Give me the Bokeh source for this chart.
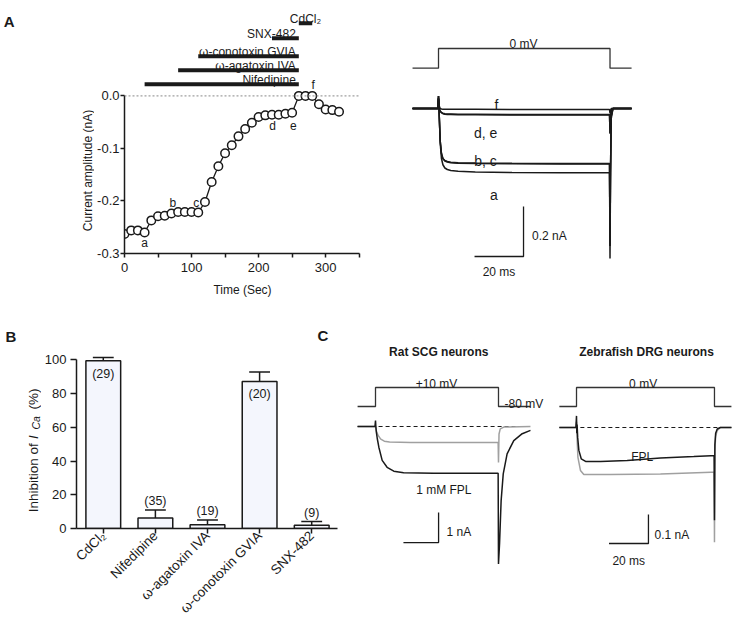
import math
from bokeh.plotting import figure
from bokeh.models import Range1d, Label, FixedTicker, PrintfTickFormatter, Span
from bokeh.layouts import row, column
from bokeh.embed import file_html
from bokeh.resources import INLINE
from bokeh.core.properties import value

FONT = "Liberation Sans"
INK = "#1a1a1a"
GRAY = "#a0a0a0"
BAR_FILL = "#f4f6fd"

# ======================= DATA =======================
# A (left): current amplitude time course
time_s = [0, 10, 20, 30, 40, 50, 60, 70, 80, 90, 100, 110, 120, 130, 140, 150, 160,
          170, 180, 190, 200, 210, 220, 230, 240, 250, 260, 270, 280, 290, 300, 310, 320]
current_nA = [-0.263, -0.256, -0.256, -0.260, -0.237, -0.229, -0.228, -0.224, -0.221,
              -0.221, -0.221, -0.222, -0.202, -0.164, -0.134, -0.109, -0.094, -0.077,
              -0.063, -0.051, -0.040, -0.037, -0.036, -0.036, -0.034, -0.032, 0.0, 0.0,
              0.0, -0.016, -0.026, -0.027, -0.030]
marked_letters = ["a", "b", "c", "d", "e", "f"]
marked_times = [30, 70, 110, 220, 250, 280]

drugs = ["Nifedipine", "ω-agatoxin IVA", "ω-conotoxin GVIA", "SNX-482", "CdCl₂"]
drug_on_s = [30, 80, 110, 220, 260]
drug_off_s = [260, 260, 260, 260, 280]

# A (right): Ca currents during a step to 0 mV (ms, nA)
trA_t = [-10.6, -0.3, 0.0, 0.3, 0.7, 1.2, 1.8, 2.6, 3.6, 5.0, 8.0, 15.0, 30.0, 50.0,
         69.8, 70.0, 70.2, 70.5, 71.2, 78.8]
trA_a = [0, 0, 0.05, -0.03, -0.14, -0.20, -0.225, -0.238, -0.244, -0.248, -0.251, -0.254,
         -0.256, -0.257, -0.257, -0.60, -0.28, -0.04, 0.0, 0.0]
trA_b = [0, 0, 0.05, -0.03, -0.13, -0.18, -0.200, -0.208, -0.212, -0.215, -0.217, -0.218,
         -0.219, -0.220, -0.220, -0.55, -0.25, -0.03, 0.0, 0.0]
trA_c = [0, 0, 0.05, -0.03, -0.13, -0.18, -0.201, -0.210, -0.214, -0.217, -0.219, -0.220,
         -0.221, -0.222, -0.222, -0.55, -0.25, -0.03, 0.0, 0.0]
trA_d = [0, 0, 0.04, 0.0, -0.010, -0.016, -0.019, -0.021, -0.022, -0.022, -0.023, -0.023,
         -0.024, -0.024, -0.024, -0.10, -0.04, -0.005, 0.0, 0.0]
trA_e = [0, 0, 0.04, 0.0, -0.011, -0.017, -0.021, -0.023, -0.024, -0.024, -0.025, -0.025,
         -0.026, -0.026, -0.026, -0.10, -0.04, -0.005, 0.0, 0.0]
trA_f = [0, 0, 0.04, 0.01, 0.0, -0.002, -0.003, -0.003, -0.003, -0.003, -0.003, -0.003,
         -0.004, -0.004, -0.004, -0.02, -0.01, 0.0, 0.0, 0.0]
stepA_t = [-10.6, 0, 0, 70, 70, 78.8]
stepA_mV = [-80, -80, 0, 0, -80, -80]

# B: inhibition of I_Ca
agents = ["CdCl₂", "Nifedipine", "ω-agatoxin IVA", "ω-conotoxin GVIA", "SNX-482"]
inhibition_pct = [99.5, 6.3, 2.2, 87.2, 2.0]
sem_pct = [2.0, 4.7, 2.9, 5.7, 2.2]
n_cells = [29, 35, 19, 20, 9]

# C (left): rat SCG neurons, step to +10 mV (ms, nA)
c1_ctrl_t = [-10.2, -0.2, 0.0, 0.5, 1.5, 3.0, 5.0, 8.0, 20.0, 40.0, 69.8, 70.0, 70.3,
             71.0, 73.0, 88.2]
c1_ctrl = [0, 0, 0.0, -0.15, -0.30, -0.42, -0.49, -0.52, -0.53, -0.53, -0.53, -1.2, -0.25,
           -0.08, -0.02, 0.0]
c1_fpl_t = [-10.2, -0.3, 0.0, 0.2, 0.5, 1.0, 1.9, 3.8, 6.6, 10.4, 16.0, 33.0, 50.0, 69.8,
            70.0, 70.6, 71.5, 72.7, 74.9, 78.7, 83.5, 88.2]
c1_fpl = [0, 0, 0.2, 0.0, -0.2, -0.4, -0.69, -1.13, -1.36, -1.49, -1.54, -1.56, -1.56,
          -1.56, -4.58, -3.91, -2.47, -1.58, -0.91, -0.47, -0.24, -0.13]
stepC1_t = [-10.2, 0, 0, 70, 70, 88.2]
stepC1_mV = [-80, -80, 10, 10, -80, -80]

# C (right): zebrafish DRG neurons, step to 0 mV (ms, nA)
c2_ctrl_t = [-8.7, -0.3, 0.0, 0.3, 0.7, 2.0, 3.7, 17.3, 42.6, 68.3, 69.8, 70.0, 70.2,
             70.6, 71.4, 73.0, 78.6]
c2_ctrl = [0, 0, 0.02, -0.04, -0.102, -0.148, -0.162, -0.162, -0.160, -0.154, -0.154,
           -0.396, -0.08, -0.03, -0.01, 0.0, 0.0]
c2_fpl_t = [-8.7, -0.3, 0.0, 0.15, 0.3, 0.6, 1.2, 2.4, 4.6, 12.2, 25.7, 42.6, 59.5, 68.3,
            69.8, 70.0, 70.2, 70.6, 71.4, 73.0, 78.6]
c2_fpl = [0, 0, 0.04, -0.02, 0.01, -0.035, -0.079, -0.108, -0.117, -0.117, -0.114, -0.105,
          -0.100, -0.097, -0.097, -0.32, -0.06, -0.02, -0.005, 0.0, 0.0]
stepC2_t = [-8.7, 0, 0, 70, 70, 78.6]
stepC2_mV = [-80, -80, 0, 0, -80, -80]


# ======================= HELPERS =======================
def base_fig(w, h, xr, yr, axes=True, **borders):
    kw = dict(width=w, height=h, x_range=Range1d(*xr), y_range=Range1d(*yr),
              output_backend="svg", toolbar_location=None)
    if not axes:
        kw.update(x_axis_location=None, y_axis_location=None, min_border=0)
    kw.update(borders)
    p = figure(**kw)
    p.outline_line_color = None
    p.grid.visible = False
    p.background_fill_color = "white"
    p.border_fill_color = "white"
    return p


def put(p, x, y, text, size="12px", style="normal", align="left",
        baseline="alphabetic", angle=0.0, y_range_name="default"):
    p.add_layout(Label(x=x, y=y, text=text, text_font=FONT, text_font_size=size,
                       text_font_style=style, text_align=align, text_baseline=baseline,
                       angle=angle, text_color=INK, y_range_name=y_range_name))


def style_axis(ax, label_size="13px"):
    ax.axis_line_color = INK
    ax.axis_line_width = 1.5
    ax.major_tick_line_color = INK
    ax.major_tick_line_width = 1.5
    ax.minor_tick_line_color = INK
    ax.minor_tick_line_width = 1.5
    ax.major_tick_in = 0
    ax.minor_tick_in = 0
    ax.major_tick_out = 4
    ax.minor_tick_out = 0
    ax.major_label_text_font = FONT
    ax.major_label_text_font_size = label_size
    ax.major_label_text_color = INK
    ax.axis_label_text_font = FONT
    ax.axis_label_text_font_style = "normal"
    ax.axis_label_text_color = INK


def scalebar(p, corner_x, corner_y, dx, dy):
    p.line([corner_x - dx, corner_x, corner_x], [corner_y, corner_y, corner_y + dy],
           line_color=INK, line_width=1.3)


TOP_H, BOT_H = 324, 300

# ======================= A: letter + y-label strip =======================
A1_BOTTOM = 71           # bottom border of the time-course plot
STRIP_A = 94
stripA = base_fig(STRIP_A, TOP_H, (0, STRIP_A), (-(TOP_H - A1_BOTTOM), 0), axes=False,
                  min_border_top=0, min_border_bottom=A1_BOTTOM)
stripA.text([3.3], [-20.7], text=["A"], text_font=value(FONT), text_font_size="15px",
            text_font_style="bold", text_baseline="alphabetic", text_color=INK)
stripA.text([87.0], [-170.0], text=["Current amplitude (nA)"], angle=math.pi / 2,
            text_font=value(FONT), text_font_size="12px", text_align="center",
            text_baseline="alphabetic", text_color=INK)

# ======================= A (left) =======================
# frame: page x 124..360, y 0..253 ; 0.67045 px/s, 525.3 px/nA
A1_X, A1_Y = (0, 352), (-0.3, -0.3 + (TOP_H - A1_BOTTOM) / 525.3)
pA1 = base_fig(370 - STRIP_A, TOP_H, A1_X, A1_Y, min_border_left=124 - STRIP_A,
               min_border_right=10, min_border_top=0, min_border_bottom=A1_BOTTOM)

xa = pA1.xaxis[0]
style_axis(xa)
xa.ticker = FixedTicker(ticks=[0, 100, 200, 300], minor_ticks=[50, 150, 250, 350])
xa.minor_tick_out = 4
xa.bounds = (0, 350)
xa.major_label_standoff = 5
xa.axis_label = "Time (Sec)"
xa.axis_label_text_font_size = "12px"
xa.axis_label_standoff = 8

ya = pA1.yaxis[0]
style_axis(ya)
ya.ticker = FixedTicker(ticks=[-0.3, -0.2, -0.1, 0.0])
ya.formatter = PrintfTickFormatter(format="%.1f")
ya.bounds = (-0.3, 0.0)
ya.major_label_standoff = 1

pA1.add_layout(Span(location=0, dimension="width", line_color="#888888",
                    line_dash="2 2", line_width=1))
pA1.line(time_s, current_nA, line_color=INK, line_width=1.3)
pA1.scatter(time_s, current_nA, size=8.5, fill_color="white", line_color=INK,
            line_width=1.5)

mark_dx = [0, 2, -3, 1, 2, 1.5]
mark_dy = [-0.020, 0.021, 0.019, -0.021, -0.024, 0.020]
mark_x = [t + d for t, d in zip(marked_times, mark_dx)]
mark_y = [current_nA[time_s.index(t)] + d for t, d in zip(marked_times, mark_dy)]
pA1.text(mark_x, mark_y, text=marked_letters, text_font=value(FONT),
         text_font_size="12px", text_align="center", text_baseline="middle",
         text_color=INK)

bar_level_px = [11.7, 25.7, 39.7, 57.7, 72.7]   # heights above the zero line
bar_levels = [lv / 525.3 for lv in bar_level_px]
pA1.segment(x0=drug_on_s, y0=bar_levels, x1=drug_off_s, y1=bar_levels,
            line_color=INK, line_width=4)
drug_align = ["right", "right", "right", "right", "center"]
for name, on, off, lv, al in zip(drugs, drug_on_s, drug_off_s, bar_levels, drug_align):
    tx = off - 4.5 if al == "right" else (on + off) / 2
    put(pA1, tx, lv + 4.5 / 525.3, name, size="12px", align=al)

# ======================= A (right) =======================
# t=0 at page x 438, 2.45 px/ms; 0 nA at page y 108, 250 px/nA
A2_X, A2_Y, A2_V = (-27.76, 121.22), (-0.864, 0.432), (-1121.9, 195.1)
pA2 = base_fig(365, TOP_H, A2_X, A2_Y, axes=False)
pA2.extra_y_ranges = {"mV": Range1d(*A2_V)}
pA2.line(stepA_t, stepA_mV, y_range_name="mV", line_color="#333333", line_width=1.3)
for tr in (trA_f, trA_e, trA_d, trA_c, trA_b, trA_a):
    pA2.line(trA_t, tr, line_color=INK, line_width=1.5)
put(pA2, 34.7, 19, "0 mV", align="center", y_range_name="mV")
for txt, tx, ty in zip(["f", "d, e", "b, c", "a"], [23.6, 19.2, 19.2, 22.6],
                       [0.016, -0.097, -0.208, -0.344]):
    put(pA2, tx, ty, txt, size="14px", align="center")
scalebar(pA2, 34.7, -0.592, 20, 0.2)
put(pA2, 38.2, -0.508, "0.2 nA")
put(pA2, 24.7, -0.655, "20 ms", align="center")

# ======================= B: letter / y-label strip =======================
B_BOTTOM = 93
STRIP_B = 41
stripB = base_fig(STRIP_B, BOT_H, (0, STRIP_B), (-(324 + BOT_H - B_BOTTOM), -324),
                  axes=False, min_border_top=0, min_border_bottom=B_BOTTOM)
stripB.text([5], [-335.5], text=["B"], text_font=value(FONT), text_font_size="15px",
            text_font_style="bold", text_baseline="alphabetic", text_color=INK)
ylab_txt = ["Inhibition of", "I", "Ca", "(%)"]
ylab_x = [32.5, 32.5, 35.3, 32.5]
ylab_y = [-511.7, -438.5, -429.0, -409.0]
ylab_size = ["13.5px", "13.5px", "10.5px", "13.5px"]
ylab_style = ["normal", "italic", "italic", "normal"]
stripB.text(ylab_x, ylab_y, text=ylab_txt, angle=math.pi / 2, text_font=value(FONT),
            text_font_size=ylab_size, text_font_style=ylab_style,
            text_baseline="alphabetic", text_align="left", text_color=INK)

# ======================= B =======================
# frame: page x 74..337, y 324..531 ; 52.5 px/category, 1.71 px/%
B_X, B_Y = (-0.514, 4.495), (0, (BOT_H - B_BOTTOM) / 1.71)
pB = base_fig(348 - STRIP_B, BOT_H, B_X, B_Y, min_border_left=74 - STRIP_B,
              min_border_right=11, min_border_top=0, min_border_bottom=B_BOTTOM)
bx = lambda px: B_X[0] + (px - 74) / 52.5
by = lambda py: (531 - py) / 1.71

x_idx = list(range(len(agents)))
pB.vbar(x=x_idx, top=inhibition_pct, bottom=0, width=0.667, fill_color=BAR_FILL,
        line_color=INK, line_width=1.5)
err_top = [m + s for m, s in zip(inhibition_pct, sem_pct)]
pB.segment(x0=x_idx, y0=inhibition_pct, x1=x_idx, y1=err_top, line_color=INK,
           line_width=1.5)
pB.segment(x0=[i - 0.2 for i in x_idx], y0=err_top, x1=[i + 0.2 for i in x_idx],
           y1=err_top, line_color=INK, line_width=1.5)
n_y = [m - 13 / 1.71 if m > 50 else t + 9 / 1.71 for m, t in zip(inhibition_pct, err_top)]
pB.text(x_idx, n_y, text=[f"({n})" for n in n_cells], text_font=value(FONT),
        text_font_size="12.5px", text_align="center", text_baseline="middle",
        text_color=INK)

xb = pB.xaxis[0]
style_axis(xb, "13.5px")
xb.major_tick_out = 5
xb.ticker = FixedTicker(ticks=x_idx)
xb.major_label_overrides = {i: a for i, a in zip(x_idx, agents)}
xb.major_label_orientation = math.pi / 4
xb.major_label_standoff = 0

yb = pB.yaxis[0]
style_axis(yb, "13px")
yb.major_tick_out = 6
yb.ticker = FixedTicker(ticks=[0, 20, 40, 60, 80, 100])
yb.bounds = (0, 100)
yb.major_label_standoff = 4

put(pB, bx(316.7), by(335.5), "C", size="15px", style="bold")

# ======================= C (left) =======================
# t=0 at page x 375, 1.757 px/ms; 0 nA at page y 426, 30 px/nA
C1_X, C1_Y, C1_V = (-15.37, 98.46), (-6.6, 3.4), (-1113.2, 308.6)
pC1 = base_fig(200, BOT_H, C1_X, C1_Y, axes=False)
pC1.extra_y_ranges = {"mV": Range1d(*C1_V)}
pC1.line(stepC1_t, stepC1_mV, y_range_name="mV", line_color="#333333", line_width=1.3)
pC1.line([stepC1_t[0], stepC1_t[-1]], [0, 0], line_color=INK, line_width=1.2,
         line_dash="4 3")
pC1.line(c1_ctrl_t, c1_ctrl, line_color=GRAY, line_width=1.5)
pC1.line(c1_fpl_t, c1_fpl, line_color=INK, line_width=1.5)
put(pC1, 36.0, 2.477, "Rat SCG neurons", style="bold", align="center")
put(pC1, 34.7, 27.5, "+10 mV", align="center", y_range_name="mV")
put(pC1, 73.4, -67.2, "-80 mV", y_range_name="mV")
put(pC1, 38.9, -2.133, "1 mM FPL", align="center")
scalebar(pC1, 35.9, -3.87, 20, 1)
put(pC1, 40.4, -3.52, "1 nA")

# ======================= C (right) =======================
# t=0 at page x 576, 1.971 px/ms; 0 nA at page y 427, 290 px/nA
C2_X, C2_Y, C2_V = (-14.21, 80.16), (-0.6793, 0.3552), (-997.9, 265.3)
pC2 = base_fig(186, BOT_H, C2_X, C2_Y, axes=False)
pC2.extra_y_ranges = {"mV": Range1d(*C2_V)}
pC2.line(stepC2_t, stepC2_mV, y_range_name="mV", line_color="#333333", line_width=1.3)
pC2.line([stepC2_t[0], stepC2_t[-1]], [0, 0], line_color=INK, line_width=1.2,
         line_dash="4 3")
pC2.line(c2_ctrl_t, c2_ctrl, line_color=GRAY, line_width=1.5)
pC2.line(c2_fpl_t, c2_fpl, line_color=INK, line_width=1.5)
put(pC2, 35.5, 0.26, "Zebrafish DRG neurons", style="bold", align="center")
put(pC2, 33.8, 15.6, "0 mV", align="center", y_range_name="mV")
put(pC2, 33.3, -0.10, "FPL", align="center")
scalebar(pC2, 36.5, -0.40, 20, 0.1)
put(pC2, 39.6, -0.372, "0.1 nA")
put(pC2, 26.5, -0.461, "20 ms", align="center")

layout = column(
    row(column(stripA), column(pA1), column(pA2)),
    row(column(stripB), column(pB), column(pC1), column(pC2)),
)
open("out.html", "w").write(file_html(layout, INLINE))
